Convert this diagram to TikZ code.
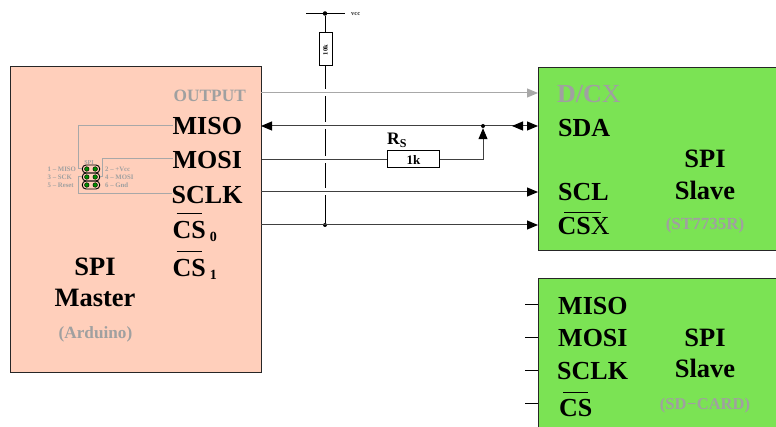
\documentclass[tikz,border=0pt]{standalone}
\usepackage{fontspec}
\setmainfont{Liberation Serif}
\usetikzlibrary{arrows.meta,calc}
\definecolor{salmon}{HTML}{FFCFBB}
\definecolor{slavegreen}{HTML}{7BE354}
\definecolor{wiregray}{HTML}{A8A8A8}
\definecolor{textgray}{HTML}{A0A0A0}
\newcommand{\ovl}[3]{\makebox[0pt][l]{\kern#1pt\rule[#3pt]{#2pt}{1pt}}}
\newcommand{\fsz}[1]{\fontsize{#1}{#1}\selectfont\bfseries}
\tikzset{
  x=1pt,y=-1pt,
  box/.style={draw=black!85,line width=1pt,anchor=north west,inner sep=0pt},
  sig/.style={anchor=base west,inner sep=0pt,font=\fsz{26},yshift=-.8pt},
  big/.style={anchor=base,inner sep=0pt,font=\fsz{26.5},yshift=-.8pt},
  grayt/.style={anchor=base west,inner sep=0pt,font=\fsz{17.3},text=textgray},
  pin/.style={anchor=base west,inner sep=0pt,font=\fsz{6.8},text=textgray},
  wire/.style={draw=black!75,line width=1pt},
  gwire/.style={draw=wiregray,line width=1pt},
  thinw/.style={draw=black,line width=.9pt},
  tip/.style={-{Triangle[length=11pt,width=9pt,color=black]}},
  gtip/.style={-{Triangle[length=11pt,width=9pt,color=wiregray]}},
  res/.style={draw=black,fill=white,line width=1pt,inner sep=0pt},
  dot/.style={circle,fill=black,inner sep=0pt,minimum size=4.5pt},
  header/.style={draw=black,line width=.9pt,rounded corners=3.8pt,inner sep=0pt,minimum width=17.5pt,minimum height=8pt},
  hole/.style={circle,draw=black,line width=.4pt,fill=green!55!black,inner sep=0pt,minimum size=4.6pt},
}
\begin{document}
\begin{tikzpicture}
\useasboundingbox (0,0) rectangle (776,427);
\clip (0,0) rectangle (776,427);
% blocks
\node[box,fill=salmon,minimum width=251pt,minimum height=306pt] (master) at (9.8,66) {};
\node[box,fill=slavegreen,minimum width=260pt,minimum height=183pt] (slaveA) at (538,67) {};
\node[box,fill=slavegreen,minimum width=260pt,minimum height=170pt] (slaveB) at (538,278) {};
% master text
\node[grayt] (output) at (173.5,102) {OUTPUT};
\node[sig] (miso) at (172.5,133.5) {MISO};
\node[sig] (mosi) at (172.5,168) {MOSI};
\node[sig] (sclk) at (171.5,203) {SCLK};
\node[sig] (csz) at (172.5,238) {\ovl{4}{25}{25}CS\raisebox{-3pt}{\kern4pt\fsz{14}0}};
\node[sig] (cso) at (172.5,276) {\ovl{4}{25}{25}CS\raisebox{-3pt}{\kern4pt\fsz{14}1}};
\node[big] (mspi) at (95,275) {SPI};
\node[big] (mname) at (95,306) {Master};
\node[anchor=base,inner sep=0pt,font=\fsz{17.2},text=textgray] (mard) at (95.5,339) {(Arduino)};
% slave A text
\node[sig,text=textgray] (dcx) at (557,102) {D/C{\mdseries X}};
\node[sig] (sda) at (558,136) {SDA};
\node[sig] (scl) at (558,200) {SCL};
\node[sig] (csx) at (557.5,234) {\ovl{6.5}{37}{22}CS{\mdseries X}};
\node[big] (aspi) at (705,167) {SPI};
\node[big] (aname) at (705,199) {Slave};
\node[anchor=base,inner sep=0pt,font=\fsz{17},text=textgray] (ast) at (705,230) {(ST7735R)};
% slave B text
\node[sig] (bmiso) at (558,314) {MISO};
\node[sig] (bmosi) at (558,346) {MOSI};
\node[sig] (bsclk) at (557,379) {SCLK};
\node[sig] (bcs) at (559,416) {\ovl{4}{25}{23.5}CS};
\node[big] (bspi) at (705,346) {SPI};
\node[big] (bname) at (705,377) {Slave};
\node[anchor=base,inner sep=0pt,font=\fsz{16.5},text=textgray] (bsd) at (705,409) {(SD{\kern.5pt}−{\kern.5pt}CARD)};
% stubs
\foreach \n/\y in {sa/304,sb/337,sc/370,sd/403}{
  \coordinate (\n) at (525,\y);
  \draw[thinw] (\n) -- (\n -| slaveB.west);
}
% vcc and pull-up
\coordinate (vl) at (306,13.5);
\coordinate (vr) at (345,13.5);
\node[dot] (vj) at (325,13.5) {};
\node[anchor=base west,inner sep=0pt,font=\fsz{6.5},text=black!80] (vcc) at (351,15.5) {vcc};
\node[res,minimum width=13pt,minimum height=33pt] (pull) at (325.5,49.5) {};
\node[rotate=90,inner sep=0pt,font=\fsz{6.5}] (pulltxt) at (325.5,50) {10k};
\node[dot,minimum size=4pt] (csj) at (325,225) {};
\draw[thinw] (vl) -- (vr);
\draw[thinw] (vj) -- (pull.north -| vj);
\draw[thinw] (pull.south -| vj) -- (csj);
% crossing gaps on the pull-up line
\foreach \y in {93,126,160,192}{
  \draw[white,line width=2.5pt] (325,\y-3.5) -- (325,\y+3.5);
}
% signal lines
\coordinate (outS) at (261,93);
\coordinate (misoS) at (261,126);
\coordinate (sclkS) at (261,192);
\coordinate (csS) at (261,225);
\draw[gwire,gtip] (outS) -- (outS -| slaveA.west);
\draw[wire,{Triangle[length=11pt,width=9pt,color=black]}-{Triangle[length=11pt,width=9pt,color=black]}] (misoS) -- (misoS -| slaveA.west);
\coordinate (dbl) at (524,126);
\coordinate (dblE) at (512,126);
\draw[wire,tip] (dbl) -- (dblE);
\node[res,minimum width=52pt,minimum height=17pt,font=\fsz{13}] (rs) at (413.5,159.5) {1k};
\node[anchor=base west,inner sep=0pt,font=\fsz{17.5}] (rslabel) at (387,145) {R\raisebox{-3pt}{\fsz{12}S}};
\coordinate (mosiS) at (rs.west -| master.east);
\node[dot,minimum size=4pt] (rj) at (483,126) {};
\draw[wire] (mosiS) -- (rs.west);
\draw[wire,tip] (rs.east) -| (rj.south);
\draw[wire,tip] (sclkS) -- (sclkS -| slaveA.west);
\draw[wire,tip] (csS) -- (csS -| slaveA.west);
% header
\node[header] (h1) at (91,169) {};
\node[header] (h2) at (91,177) {};
\node[header] (h3) at (91,185) {};
\foreach \h in {1,2,3}{
  \node[hole] (l\h) at ($(h\h)+(-4.2,0)$) {};
  \node[hole] (r\h) at ($(h\h)+(4.2,0)$) {};
}
\node[anchor=base,inner sep=0pt,font=\fsz{6},text=textgray] (spilbl) at (89,164.5) {SPI};
\node[pin] (p1) at (47.5,171.5) {1 – MISO};
\node[pin] (p3) at (47.5,179.5) {3 – SCK};
\node[pin] (p5) at (47.5,187.5) {5 – Reset};
\node[pin] (p2) at (105,171.5) {2 – +Vcc};
\node[pin] (p4) at (105,179.5) {4 – MOSI};
\node[pin] (p6) at (105,187.5) {6 – Gnd};
% header wires
\coordinate (wa) at (78,126);
\coordinate (wb) at (102,159);
\coordinate (wc) at (78,194);
\draw[gwire] (h1.west) -| (wa) -- (wa -| miso.west);
\draw[gwire] (h2.east) -| (wb) -- (wb -| mosi.west);
\draw[gwire] (h2.west) -| (wc) -- (wc -| sclk.west);
\end{tikzpicture}
\end{document}
